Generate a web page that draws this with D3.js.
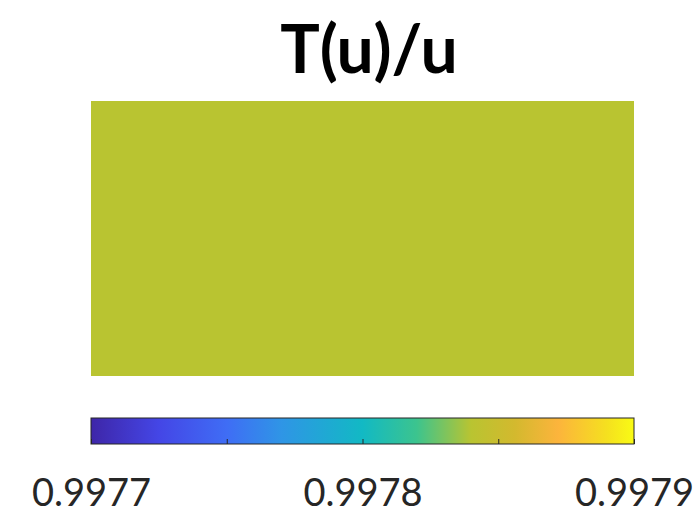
<!DOCTYPE html>
<html>
<head>
<meta charset="utf-8">
<title>T(u)/u</title>
<style>
    body { margin: 0; background: #fff; }
    svg text { font-family: Lato, "Open Sans", sans-serif; fill: #1a1a1a; }
</style>
</head>
<body>
<script src="https://cdn.jsdelivr.net/npm/d3@7"></script>
<script>
    // data
    var title = "T(u)/u";
    var fieldValues = [0.99784];           // single uniform cell
    var colorDomain = [0.9977, 0.9979];
    var tickValues = [0.9977, 0.99775, 0.9978, 0.99785, 0.9979];
    var tickLabels = ["0.9977", "", "0.9978", "", "0.9979"];
    // colormap stops (fraction of domain -> colour)
    var cmapStops = [0, 0.125, 0.25, 0.35, 0.5, 0.6, 0.7, 0.78, 0.86, 0.95, 1];
    var cmapColors = ["#3e26a8", "#4446e6", "#3f6df5", "#2f95e6", "#12b9c4", "#3cc48e",
                      "#b9c431", "#d3b92e", "#fcb43c", "#f5e01f", "#f9fb14"];

    var width = 700, height = 525;
    var svg = d3.select("body").append("svg")
        .attr("width", width)
        .attr("height", height);

    var plot = {x: 91, y: 101, w: 543, h: 275};
    var cbar = {x: 91, y: 418, w: 543, h: 26};

    var color = d3.scaleLinear()
        .domain(cmapStops.map(function (s) { return colorDomain[0] + s * (colorDomain[1] - colorDomain[0]); }))
        .range(cmapColors)
        .interpolate(d3.interpolateRgb)
        .clamp(true);

    // title
    svg.append("text")
        .attr("x", 369)
        .attr("y", 73)
        .attr("text-anchor", "middle")
        .style("font-size", "66px")
        .style("font-weight", "bold")
        .style("fill", "#000")
        .text(title);

    // field
    var xs = d3.scaleBand().domain(d3.range(fieldValues.length)).range([plot.x, plot.x + plot.w]);
    svg.selectAll("rect.cell")
        .data(fieldValues)
        .enter().append("rect")
        .attr("class", "cell")
        .attr("x", function (d, i) { return xs(i); })
        .attr("y", plot.y)
        .attr("width", xs.bandwidth())
        .attr("height", plot.h)
        .attr("fill", function (d) { return color(d); });

    // colorbar
    var cx = d3.scaleLinear().domain(colorDomain).range([cbar.x, cbar.x + cbar.w]);
    var defs = svg.append("defs");
    var grad = defs.append("linearGradient").attr("id", "cmap")
        .attr("x1", "0%").attr("x2", "100%").attr("y1", "0%").attr("y2", "0%");
    grad.selectAll("stop")
        .data(cmapStops)
        .enter().append("stop")
        .attr("offset", function (d) { return (d * 100) + "%"; })
        .attr("stop-color", function (d, i) { return cmapColors[i]; });

    svg.append("rect")
        .attr("x", cbar.x).attr("y", cbar.y)
        .attr("width", cbar.w).attr("height", cbar.h)
        .attr("fill", "url(#cmap)")
        .attr("stroke", "#262626")
        .attr("stroke-width", 1);

    var axis = d3.axisBottom(cx)
        .tickValues(tickValues)
        .tickSize(0)
        .tickFormat(function (d, i) { return tickLabels[i]; });
    var ag = svg.append("g")
        .attr("transform", "translate(0," + (cbar.y + cbar.h) + ")")
        .call(axis);
    ag.select(".domain").remove();
    ag.selectAll(".tick line")
        .attr("y1", 0).attr("y2", -5)
        .attr("stroke", "#262626");
    ag.selectAll(".tick text")
        .attr("y", 62)
        .attr("dy", 0)
        .style("font-size", "38px")
        .style("font-family", "Lato, sans-serif")
        .style("fill", "#262626");
</script>
</body>
</html>
